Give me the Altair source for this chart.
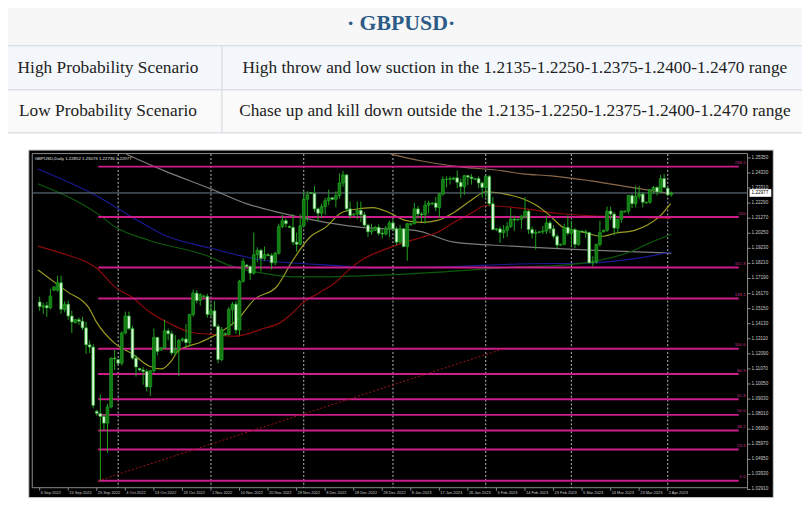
import altair as alt
import pandas as pd

OFF = 8  # page margin: reference pixel (X, Y) is drawn at chart (X-8, Y-8)

# ---------------- text content ----------------
title_text = "· GBPUSD·"
row_labels = ["High Probability Scenario", "Low Probability Scenario"]
row_texts = [
    "High throw and low suction in the 1.2135-1.2250-1.2375-1.2400-1.2470 range",
    "Chase up and kill down outside the 1.2135-1.2250-1.2375-1.2400-1.2470 range",
]
chart_header = "GBPUSD,Daily  1.22852 1.23073 1.22736 1.22977"

# ---------------- candles (bar index 0 = 6 Sep 2022, broker has Sunday bars) ----------------
opens = [
    1.1560, 1.1525, 1.1535, 1.1520, 1.1640, 1.1640,
    1.1690, 1.1510, 1.1545, 1.1465, 1.1420, 1.1440,
    1.1430, 1.1385, 1.1270, 1.1255, 1.0820, 1.0805,
    1.0785, 1.0740, 1.0850, 1.1180, 1.1170, 1.1145,
    1.1350, 1.1465, 1.1380, 1.1180, 1.1110, 1.1100,
    1.1090, 1.0985, 1.1095, 1.1320, 1.1235, 1.1250,
    1.1365, 1.1345, 1.1215, 1.1240, 1.1300, 1.1310,
    1.1285, 1.1475, 1.1620, 1.1570, 1.1600, 1.1598,
    1.1475, 1.1500, 1.1395, 1.1170, 1.1345, 1.1340,
    1.1510, 1.1545, 1.1370, 1.1700, 1.1810, 1.1800,
    1.1755, 1.1880, 1.1910, 1.1855, 1.1880, 1.1875,
    1.1825, 1.1890, 1.2070, 1.2110, 1.2070, 1.2065,
    1.1965, 1.1950, 1.2075, 1.2255, 1.2300, 1.2295,
    1.2190, 1.2160, 1.2205, 1.2245, 1.2265, 1.2255,
    1.2280, 1.2365, 1.2420, 1.2190, 1.2150, 1.2155,
    1.2180, 1.2150, 1.2080, 1.2035, 1.2045, 1.2065,
    1.2025, 1.2020, 1.2060, 1.2095, 1.2055, 1.1965,
    1.2055, 1.1935, 1.2085, 1.2090, 1.2190, 1.2155,
    1.2150, 1.2215, 1.2225, 1.2230, 1.2200, 1.2290,
    1.2390, 1.2390, 1.2390, 1.2400, 1.2370, 1.2340,
    1.2415, 1.2405, 1.2390, 1.2395, 1.2365, 1.2335,
    1.2410, 1.2225, 1.2050, 1.2055, 1.2030, 1.2045,
    1.2070, 1.2120, 1.2115, 1.2120, 1.2140, 1.2175,
    1.2050, 1.2025, 1.2030, 1.2035, 1.2040, 1.2095,
    1.2055, 1.2005, 1.1945, 1.1950, 1.2065, 1.2025,
    1.2050, 1.1950, 1.2040, 1.2035, 1.2030, 1.1825,
    1.1830, 1.1950, 1.2035, 1.2045, 1.2175, 1.2155,
    1.2060, 1.2120, 1.2170, 1.2175, 1.2280, 1.2225,
    1.2275, 1.2290, 1.2230, 1.2235, 1.2320, 1.2335,
    1.2305, 1.2395, 1.2330, 1.22852,
]
highs = [
    1.1595, 1.1555, 1.1560, 1.1650, 1.1668, 1.1738,
    1.1738, 1.1565, 1.1570, 1.1500, 1.1445, 1.1455,
    1.1460, 1.1425, 1.1300, 1.1275, 1.0830, 1.0935,
    1.0800, 1.0870, 1.1185, 1.1235, 1.1175, 1.1360,
    1.1495, 1.1495, 1.1400, 1.1200, 1.1115, 1.1120,
    1.1105, 1.1100, 1.1380, 1.1325, 1.1255, 1.1440,
    1.1380, 1.1365, 1.1335, 1.1310, 1.1320, 1.1410,
    1.1480, 1.1645, 1.1640, 1.1620, 1.1610, 1.1615,
    1.1550, 1.1565, 1.1410, 1.1390, 1.1355, 1.1525,
    1.1560, 1.1565, 1.1710, 1.1855, 1.1815, 1.1810,
    1.2030, 1.1930, 1.1920, 1.1935, 1.1890, 1.1890,
    1.1900, 1.2090, 1.2150, 1.2125, 1.2080, 1.2155,
    1.2030, 1.2155, 1.2310, 1.2310, 1.2305, 1.2345,
    1.2200, 1.2225, 1.2265, 1.2320, 1.2270, 1.2310,
    1.2430, 1.2447, 1.2425, 1.2240, 1.2160, 1.2240,
    1.2240, 1.2170, 1.2090, 1.2090, 1.2075, 1.2085,
    1.2050, 1.2075, 1.2110, 1.2120, 1.2070, 1.2080,
    1.2060, 1.2095, 1.2095, 1.2230, 1.2210, 1.2170,
    1.2245, 1.2245, 1.2235, 1.2270, 1.2300, 1.2410,
    1.2410, 1.2410, 1.2405, 1.2450, 1.2395, 1.2420,
    1.2420, 1.2425, 1.2400, 1.2410, 1.2375, 1.2420,
    1.2420, 1.2270, 1.2060, 1.2070, 1.2080, 1.2100,
    1.2195, 1.2145, 1.2125, 1.2150, 1.2270, 1.2185,
    1.2070, 1.2050, 1.2040, 1.2075, 1.2145, 1.2110,
    1.2080, 1.2020, 1.1955, 1.2090, 1.2145, 1.2110,
    1.2060, 1.2045, 1.2045, 1.2050, 1.2035, 1.1870,
    1.1955, 1.2110, 1.2050, 1.2205, 1.2205, 1.2170,
    1.2125, 1.2180, 1.2180, 1.2285, 1.2290, 1.2345,
    1.2345, 1.2305, 1.2240, 1.2325, 1.2345, 1.2345,
    1.2420, 1.2425, 1.2335, 1.23073,
]
lows = [
    1.1500, 1.1480, 1.1460, 1.1510, 1.1635, 1.1630,
    1.1480, 1.1490, 1.1440, 1.1350, 1.1415, 1.1405,
    1.1370, 1.1210, 1.1215, 1.0840, 1.0790, 1.0350,
    1.0690, 1.0540, 1.0840, 1.1100, 1.1140, 1.1130,
    1.1340, 1.1370, 1.1170, 1.1055, 1.1090, 1.1000,
    1.0955, 1.0925, 1.1080, 1.1200, 1.1230, 1.1240,
    1.1300, 1.1200, 1.1200, 1.1060, 1.1290, 1.1250,
    1.1260, 1.1460, 1.1550, 1.1535, 1.1590, 1.1455,
    1.1460, 1.1390, 1.1145, 1.1160, 1.1330, 1.1335,
    1.1400, 1.1345, 1.1335, 1.1690, 1.1795, 1.1710,
    1.1745, 1.1830, 1.1765, 1.1840, 1.1870, 1.1780,
    1.1810, 1.1880, 1.2060, 1.2065, 1.2060, 1.1945,
    1.1900, 1.1945, 1.2065, 1.2105, 1.2290, 1.2170,
    1.2105, 1.2130, 1.2150, 1.2215, 1.2250, 1.2200,
    1.2260, 1.2340, 1.2170, 1.2125, 1.2140, 1.2120,
    1.2100, 1.2070, 1.2000, 1.2015, 1.2040, 1.2010,
    1.1990, 1.2010, 1.2000, 1.2040, 1.1945, 1.1955,
    1.1930, 1.1840, 1.2075, 1.2085, 1.2125, 1.2100,
    1.2090, 1.2160, 1.2215, 1.2175, 1.2130, 1.2280,
    1.2335, 1.2355, 1.2385, 1.2330, 1.2265, 1.2285,
    1.2350, 1.2355, 1.2385, 1.2330, 1.2265, 1.2270,
    1.2210, 1.2045, 1.2040, 1.1960, 1.1990, 1.2000,
    1.2060, 1.2040, 1.2110, 1.2055, 1.2125, 1.2020,
    1.1990, 1.1915, 1.2025, 1.2020, 1.2020, 1.2025,
    1.1990, 1.1925, 1.1940, 1.1945, 1.2010, 1.1935,
    1.1925, 1.1940, 1.2030, 1.1995, 1.1820, 1.1800,
    1.1820, 1.1935, 1.2030, 1.2035, 1.2115, 1.2010,
    1.2025, 1.2095, 1.2165, 1.2155, 1.2195, 1.2200,
    1.2255, 1.2200, 1.2225, 1.2225, 1.2290, 1.2280,
    1.2295, 1.2330, 1.2280, 1.22736,
]
closes = [
    1.1530, 1.1535, 1.1520, 1.1600, 1.1660, 1.1690,
    1.1510, 1.1545, 1.1465, 1.1425, 1.1440, 1.1430,
    1.1385, 1.1270, 1.1255, 1.0860, 1.0805, 1.0785,
    1.0740, 1.0850, 1.1180, 1.1175, 1.1145, 1.1350,
    1.1465, 1.1380, 1.1180, 1.1120, 1.1100, 1.1090,
    1.0985, 1.1095, 1.1320, 1.1225, 1.1250, 1.1365,
    1.1345, 1.1215, 1.1240, 1.1300, 1.1310, 1.1285,
    1.1475, 1.1620, 1.1570, 1.1610, 1.1598, 1.1475,
    1.1500, 1.1395, 1.1170, 1.1375, 1.1340, 1.1510,
    1.1545, 1.1370, 1.1700, 1.1835, 1.1800, 1.1755,
    1.1880, 1.1910, 1.1855, 1.1880, 1.1875, 1.1825,
    1.1890, 1.2070, 1.2110, 1.2090, 1.2065, 1.1965,
    1.1950, 1.2075, 1.2255, 1.2285, 1.2295, 1.2190,
    1.2160, 1.2205, 1.2245, 1.2265, 1.2255, 1.2280,
    1.2365, 1.2420, 1.2190, 1.2145, 1.2155, 1.2180,
    1.2150, 1.2080, 1.2035, 1.2045, 1.2065, 1.2025,
    1.2020, 1.2060, 1.2095, 1.2055, 1.1965, 1.2055,
    1.1935, 1.2090, 1.2090, 1.2190, 1.2155, 1.2150,
    1.2215, 1.2230, 1.2230, 1.2200, 1.2290, 1.2390,
    1.2390, 1.2395, 1.2400, 1.2370, 1.2340, 1.2415,
    1.2405, 1.2395, 1.2395, 1.2365, 1.2335, 1.2410,
    1.2225, 1.2050, 1.2055, 1.2030, 1.2045, 1.2070,
    1.2120, 1.2115, 1.2120, 1.2140, 1.2175, 1.2050,
    1.2025, 1.2030, 1.2035, 1.2040, 1.2095, 1.2055,
    1.2005, 1.1945, 1.1950, 1.2065, 1.2025, 1.2050,
    1.1950, 1.2040, 1.2035, 1.2030, 1.1825, 1.1830,
    1.1950, 1.2030, 1.2045, 1.2175, 1.2155, 1.2060,
    1.2120, 1.2175, 1.2175, 1.2280, 1.2225, 1.2275,
    1.2290, 1.2235, 1.2235, 1.2320, 1.2335, 1.2305,
    1.2395, 1.2335, 1.2285, 1.22977,
]
assert len(opens) == len(highs) == len(lows) == len(closes) == 178

# ---------------- axes / annotations ----------------
date_tick_idx = [0, 8, 16, 24, 32, 40, 48, 56, 64, 72, 80, 88, 96, 104, 112,
                 120, 128, 136, 144, 152, 160, 168, 176]
date_tick_labels = ["6 Sep 2022", "15 Sep 2022", "25 Sep 2022", "4 Oct 2022", "13 Oct 2022",
                    "23 Oct 2022", "1 Nov 2022", "10 Nov 2022", "20 Nov 2022", "29 Nov 2022",
                    "8 Dec 2022", "18 Dec 2022", "28 Dec 2022", "8 Jan 2023", "17 Jan 2023",
                    "26 Jan 2023", "5 Feb 2023", "14 Feb 2023", "23 Feb 2023", "5 Mar 2023",
                    "14 Mar 2023", "23 Mar 2023", "2 Apr 2023"]
price_tick_labels = ["1.25350", "1.24330", "1.23310", "1.22290", "1.21270", "1.20250",
                     "1.19230", "1.18210", "1.17190", "1.16170", "1.15150", "1.14130",
                     "1.13110", "1.12090", "1.11070", "1.10050", "1.09030", "1.08010",
                     "1.06990", "1.05970", "1.04950", "1.03930", "1.02910"]
month_sep_idx = [22, 48, 74, 99, 125, 149, 176]
current_price = 1.22977
current_label = "1.22977"

fib_labels = ["0.0", "23.6", "38.2", "50.0", "61.8", "80.9", "100.0", "138.2", "161.8", "200", "238.2"]
fib_prices = [1.0350, 1.0561, 1.0691, 1.0796, 1.0902, 1.1072, 1.1243, 1.1583, 1.1794, 1.2135, 1.2476]
fib_start_idx = 16.4
fib_end_idx = 195.9
fib_diag_idx = [16.4, 130.0]
fib_diag_price = [1.0350, 1.1243]

# moving averages, read as (bar index, price) points
ma_yellow_idx = [-0.5, 7.7, 13.7, 15.8, 21.3, 26.0, 30.6, 34.2, 36.9, 38.8, 45.1, 51.1, 55.5, 60.1,
                 66.4, 71.0, 75.7, 80.1, 84.7, 90.2, 93.4, 97.8, 102.5, 107.1, 111.5, 116.1, 120.8,
                 125.1, 129.8, 135.2, 139.3, 142.9, 146.7, 152.2, 157.7, 161.2, 166.7, 170.2, 174.0, 176.8]
ma_yellow_val = [1.1777, 1.1630, 1.1523, 1.1429, 1.1275, 1.1208, 1.1127, 1.1107, 1.1161, 1.1228,
                 1.1288, 1.1362, 1.1442, 1.1576, 1.1663, 1.1844, 1.1998, 1.2065, 1.2166, 1.2193,
                 1.2199, 1.2166, 1.2112, 1.2099, 1.2112, 1.2166, 1.2246, 1.2306, 1.2293, 1.2260,
                 1.2213, 1.2146, 1.2065, 1.2032, 1.2005, 1.2025, 1.2045, 1.2079, 1.2146, 1.2226]
ma_red_idx = [-0.5, 7.7, 13.1, 15.8, 21.3, 26.0, 30.6, 36.9, 42.3, 47.3, 54.6, 62.0, 67.5, 71.0,
              73.8, 78.4, 82.8, 86.6, 90.2, 96.2, 102.5, 107.1, 111.5, 116.1, 120.8, 125.1,
              129.8, 135.2, 145.6, 167.5, 176.8]
ma_red_val = [1.1938, 1.1878, 1.1831, 1.1791, 1.1657, 1.1590, 1.1496, 1.1409, 1.1355, 1.1342,
              1.1328, 1.1375, 1.1422, 1.1489, 1.1556, 1.1623, 1.1690, 1.1777, 1.1844, 1.1911,
              1.1965, 1.1998, 1.2032, 1.2099, 1.2159, 1.2213, 1.2206, 1.2193, 1.2159, 1.2132, 1.2126]
ma_green_idx = [-0.5, 16.9, 21.3, 30.6, 47.8, 52.7, 62.0, 71.0, 80.1, 90.2, 113.4, 133.9, 143.4,
                154.4, 165.3, 170.8, 177.0]
ma_green_val = [1.2360, 1.2146, 1.2065, 1.1978, 1.1864, 1.1811, 1.1757, 1.1730, 1.1730, 1.1737,
                1.1764, 1.1797, 1.1804, 1.1831, 1.1898, 1.1958, 1.2018]
ma_blue_idx = [-0.5, 16.9, 26.0, 35.0, 47.8, 62.3, 71.0, 80.1, 94.3, 113.4, 133.9, 154.4, 168.0, 177.0]
ma_blue_val = [1.2460, 1.2266, 1.2132, 1.2012, 1.1925, 1.1844, 1.1824, 1.1811, 1.1791, 1.1797,
               1.1817, 1.1824, 1.1858, 1.1898]
ma_gray_idx = [24.3, 35.0, 47.8, 57.9, 66.9, 80.1, 90.2, 105.2, 116.1, 132.5, 154.4, 177.0]
ma_gray_val = [1.2560, 1.2447, 1.2327, 1.2226, 1.2166, 1.2099, 1.2065, 1.2045, 1.1965, 1.1938,
               1.1911, 1.1891]
ma_brown_idx = [98.4, 107.1, 118.0, 129.8, 135.2, 143.4, 154.4, 168.0, 177.0]
ma_brown_val = [1.2561, 1.2514, 1.2474, 1.2447, 1.2427, 1.2414, 1.2380, 1.2327, 1.2293]

# ---------------- styling ----------------
W, H = 810 - OFF, 512 - OFF
BULL = "#127a12"
BEAR = "#dcfcdc"
WICK = "#22a322"
FIB = "#cc1d8a"
AXIS_TXT = "#c8c8c8"
SMALL_FONT = "Liberation Sans"
SERIF = "Liberation Serif"


def px(v):
    return v - OFF


def price_to_y(p):
    return px(483) - (p - 1.0350) / 0.00067


xs = alt.Scale(domain=[0, 180], range=[px(35), px(35) + 3.66 * 180], nice=False, zero=False)
ys = alt.Scale(domain=[1.0285, 1.2560], range=[price_to_y(1.0285), price_to_y(1.2560)],
               nice=False, zero=False)

one = alt.Data(values=[{"k": 0}])


def box(x0, x1, y0, y1, fill, **kw):
    return alt.Chart(one).mark_rect(fill=fill, **kw).encode(
        x=alt.value(px(x0)), x2=alt.value(px(x1)), y=alt.value(px(y0)), y2=alt.value(px(y1)))


def hline(x0, x1, y, color, w=1):
    return alt.Chart(one).mark_rule(color=color, strokeWidth=w).encode(
        x=alt.value(px(x0)), x2=alt.value(px(x1)), y=alt.value(px(y)))


def vline(x, y0, y1, color, w=1, **kw):
    return alt.Chart(one).mark_rule(color=color, strokeWidth=w, **kw).encode(
        x=alt.value(px(x)), y=alt.value(px(y0)), y2=alt.value(px(y1)))


layers = []
# ---- header & table ----
layers.append(box(0, 810, 0, 44, "#f7f7f7"))
layers.append(box(0, 810, 44, 88, "#f4f8fc"))
layers.append(box(0, 810, 88, 131, "#fafafa"))
for yy in [43.5, 88, 131.5]:
    layers.append(hline(0, 810, yy, "#dde1e6", 1.5))
layers.append(vline(224, 44, 131.5, "#dde1e6", 1.5))

layers.append(alt.Chart(alt.Data(values=[{"t": title_text}])).mark_text(
    font=SERIF, fontSize=22, fontWeight="bold", color="#2d5b86",
    align="center", baseline="middle").encode(
    x=alt.value(px(405)), y=alt.value(px(21)), text="t:N"))
row_y = [66, 110]
for lab, txt, yy in zip(row_labels, row_texts, row_y):
    layers.append(alt.Chart(alt.Data(values=[{"t": lab}])).mark_text(
        font=SERIF, fontSize=17.5, color="#222222", align="center",
        baseline="middle").encode(x=alt.value(px(109)), y=alt.value(px(yy)), text="t:N"))
    layers.append(alt.Chart(alt.Data(values=[{"t": txt}])).mark_text(
        font=SERIF, fontSize=17.5, color="#222222", align="center",
        baseline="middle").encode(x=alt.value(px(520)), y=alt.value(px(yy)), text="t:N"))

# ---- chart panel ----
layers.append(box(29, 781, 149, 500, "#000000", stroke="#c8c8c8", strokeWidth=1))
# plot frame
layers.append(hline(32.5, 755, 152.5, "#8c8c8c"))
layers.append(vline(32.5, 152.5, 490, "#8c8c8c"))
layers.append(vline(755, 152.5, 492, "#8c8c8c"))
layers.append(hline(32.5, 755, 490, "#8c8c8c"))

# month separators
sep_df = pd.DataFrame({"i": month_sep_idx})
layers.append(alt.Chart(sep_df).mark_rule(color="#bdbdbd", strokeWidth=1, strokeDash=[2, 2]).encode(
    x=alt.X("i:Q", scale=xs, axis=None), y=alt.value(px(153)), y2=alt.value(px(490))))

# moving averages
ma_rows = []
for name, ii, vv in [("gray", ma_gray_idx, ma_gray_val), ("brown", ma_brown_idx, ma_brown_val),
                     ("blue", ma_blue_idx, ma_blue_val), ("green", ma_green_idx, ma_green_val),
                     ("red", ma_red_idx, ma_red_val), ("yellow", ma_yellow_idx, ma_yellow_val)]:
    for a, b in zip(ii, vv):
        ma_rows.append({"s": name, "i": a, "p": b})
ma_df = pd.DataFrame(ma_rows)
layers.append(alt.Chart(ma_df).mark_line(strokeWidth=1.2, interpolate="monotone").encode(
    x=alt.X("i:Q", scale=xs, axis=None),
    y=alt.Y("p:Q", scale=ys, axis=None),
    color=alt.Color("s:N", legend=None, scale=alt.Scale(
        domain=["gray", "brown", "blue", "green", "red", "yellow"],
        range=["#7c7c7c", "#8a6848", "#1a1a96", "#0c5a0c", "#8e0a0a", "#9c9c22"])),
    detail="s:N"))

# current price line
layers.append(alt.Chart(pd.DataFrame({"p": [current_price]})).mark_rule(
    color="#6f7f8f", strokeWidth=1).encode(
    y=alt.Y("p:Q", scale=ys, axis=None), x=alt.value(px(33)), x2=alt.value(px(755))))

# fibonacci levels
fib_df = pd.DataFrame({"p": fib_prices, "lab": fib_labels,
                       "x0": [fib_start_idx] * len(fib_prices), "x1": [fib_end_idx] * len(fib_prices)})
layers.append(alt.Chart(fib_df).mark_rule(color=FIB, strokeWidth=2).encode(
    x=alt.X("x0:Q", scale=xs, axis=None), x2="x1:Q", y=alt.Y("p:Q", scale=ys, axis=None)))
layers.append(alt.Chart(pd.DataFrame({"i": fib_diag_idx, "p": fib_diag_price})).mark_line(
    color="#a3121a", strokeWidth=1, strokeDash=[2, 2]).encode(
    x=alt.X("i:Q", scale=xs, axis=None), y=alt.Y("p:Q", scale=ys, axis=None)))
layers.append(alt.Chart(fib_df).mark_text(color="#c0308a", fontSize=4.4, align="right",
                                          baseline="bottom", dy=-1.5, font=SMALL_FONT).encode(
    x=alt.value(px(753)), y=alt.Y("p:Q", scale=ys, axis=None), text="lab:N"))

# candles
cdf = pd.DataFrame({"i": list(range(len(opens))), "o": opens, "h": highs, "l": lows, "c": closes})
cdf["bull"] = cdf["c"] >= cdf["o"]
cdf["b0"] = cdf[["o", "c"]].min(axis=1)
cdf["b1"] = cdf[["o", "c"]].max(axis=1)
layers.append(alt.Chart(cdf).mark_rule(color=WICK, strokeWidth=1).encode(
    x=alt.X("i:Q", scale=xs, axis=None), y=alt.Y("l:Q", scale=ys, axis=None), y2="h:Q"))
layers.append(alt.Chart(cdf).mark_bar(size=2.8, stroke=WICK, strokeWidth=0.7).encode(
    x=alt.X("i:Q", scale=xs, axis=None), y=alt.Y("b0:Q", scale=ys, axis=None), y2="b1:Q",
    fill=alt.condition("datum.bull", alt.value(BULL), alt.value(BEAR))))

# price axis labels
pt_df = pd.DataFrame({"lab": price_tick_labels, "p": [float(s) for s in price_tick_labels]})
layers.append(alt.Chart(pt_df).mark_rule(color="#8c8c8c").encode(
    y=alt.Y("p:Q", scale=ys, axis=None), x=alt.value(px(755)), x2=alt.value(px(758))))
layers.append(alt.Chart(pt_df).mark_text(color=AXIS_TXT, fontSize=4.7, align="left",
                                         baseline="middle", font=SMALL_FONT).encode(
    y=alt.Y("p:Q", scale=ys, axis=None), x=alt.value(px(759)), text="lab:N"))
# current price box (white tag on the price axis)
cp_df = pd.DataFrame({"p": [current_price], "lab": [current_label],
                      "top": [current_price + 0.0026], "bot": [current_price - 0.0026]})
layers.append(alt.Chart(cp_df).mark_rect(fill="#ffffff").encode(
    y=alt.Y("top:Q", scale=ys, axis=None), y2="bot:Q",
    x=alt.value(px(757)), x2=alt.value(px(779))))
layers.append(alt.Chart(cp_df).mark_text(color="#000000", fontSize=4.7, align="left",
                                         baseline="middle", font=SMALL_FONT).encode(
    y=alt.Y("p:Q", scale=ys, axis=None), x=alt.value(px(759)), text="lab:N"))

# date axis labels
dt_df = pd.DataFrame({"i": date_tick_idx, "lab": date_tick_labels})
layers.append(alt.Chart(dt_df).mark_rule(color="#8c8c8c").encode(
    x=alt.X("i:Q", scale=xs, axis=None), y=alt.value(px(490)), y2=alt.value(px(493))))
layers.append(alt.Chart(dt_df).mark_text(color=AXIS_TXT, fontSize=4.0, align="left",
                                         baseline="middle", dx=1, font=SMALL_FONT).encode(
    x=alt.X("i:Q", scale=xs, axis=None), y=alt.value(px(495.5)), text="lab:N"))

# chart header
layers.append(alt.Chart(alt.Data(values=[{"t": chart_header}])).mark_text(
    color="#e0e0e0", fontSize=4.4, align="left", baseline="middle", font=SMALL_FONT).encode(
    x=alt.value(px(35)), y=alt.value(px(158)), text="t:N"))

chart = alt.layer(*layers).properties(
    width=W, height=H, padding=0,
    autosize=alt.AutoSizeParams(type="none"),
    background="#ffffff",
).configure_view(stroke=None)

chart.save("out.html", embed_options={"renderer": "svg", "actions": False})
